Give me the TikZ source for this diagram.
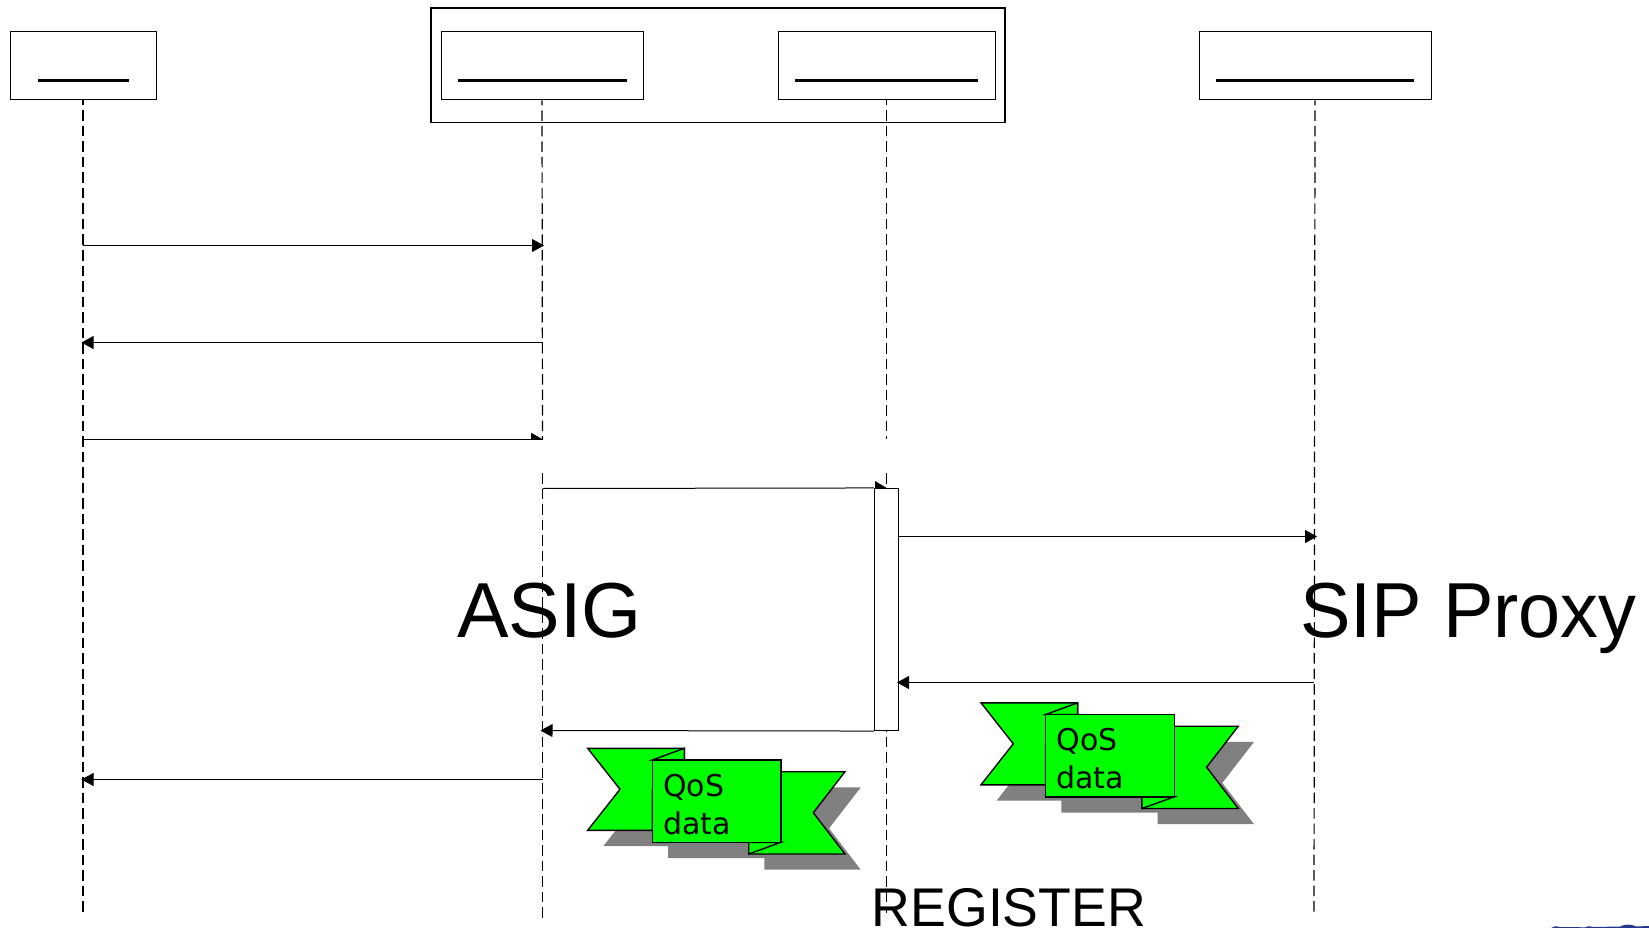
\documentclass[tikz,border=0pt]{standalone}
\usepackage{fontspec}
\setmainfont{Liberation Sans}
\newfontfamily\qosfont{DejaVu Sans}
\newfontfamily\asigfont[FakeStretch=0.99]{Liberation Sans}
\newfontfamily\sipfont[FakeStretch=0.97]{Liberation Sans}
\newfontfamily\regfont[FakeStretch=0.985]{Liberation Sans}
\usetikzlibrary{arrows.meta}
\definecolor{ribgreen}{RGB}{0,255,0}
\definecolor{ribshadow}{RGB}{128,128,128}
\definecolor{cornerblue}{RGB}{35,55,140}
\tikzset{
  x=1pt,y=-1pt,
  headbox/.style={draw=black,line width=1pt,fill=white,inner sep=0pt,minimum height=68.5pt},
  groupbox/.style={draw=black,line width=1.8pt,inner sep=0pt},
  headbar/.style={line width=3pt,black},
  lifeline/.style={draw=black,line width=1.2pt,dash pattern=on 10.5pt off 5pt},
  lifetop/.style={lifeline,dash phase=5.5pt},
  msg/.style={draw=black,line width=1pt,-{Triangle[length=12pt,width=13pt]}},
  msgplain/.style={draw=black,line width=1pt},
  halfhead/.style={fill=black},
  actbox/.style={draw=black,line width=1.1pt,fill=white,inner sep=0pt},
  bigtext/.style={inner sep=0pt,anchor=base west},
  ribline/.style={draw=black,line width=1.4pt,line join=miter,fill=ribgreen},
  qostext/.style={inner sep=0pt,anchor=base west,font=\fontsize{30}{30}\qosfont\selectfont},
}
\newcommand{\ribbon}[3]{%
  \begin{scope}[shift={(#1,#2)}]
    \fill[ribshadow] (603.4,764) -- (700,764) -- (700,775.7) -- (796.7,775.7) -- (796.7,787.4) -- (860.7,787.4)
      -- (829,828.4) -- (860.7,869.7) -- (764.4,869.7) -- (764.4,858) -- (668,858) -- (668,846) -- (603.4,846) -- (635.7,805) -- cycle;
    \path[ribline] (587.7,748.3) -- (684.3,748.3) -- (684.3,790) -- (652.3,790) -- (652.3,830.3) -- (587.7,830.3) -- (620,789.3) -- cycle;
    \path[ribline] (770,771.7) -- (845,771.7) -- (813.3,812.7) -- (845,854) -- (748.7,854) -- (748.7,830) -- (770,830) -- cycle;
    \path[ribline] (652.3,760) -- (684.3,748.3) -- (684.3,760) -- cycle;
    \path[ribline] (748.7,854) -- (781,842.3) -- (748.7,842.3) -- cycle;
    \path[ribline] (652.3,760) rectangle (781,842.3);
    \node[qostext] (#3a) at (663,796) {QoS};
    \node[qostext] (#3b) at (663,834) {data};
  \end{scope}}
\begin{document}
\begin{tikzpicture}
\path[use as bounding box] (0,0) rectangle (1649,928);

% group frame and head boxes
\node[groupbox,minimum width=574pt,minimum height=114.5pt] (group) at (718,65.25) {};
\node[headbox,minimum width=146pt] (h1) at (83,65.75) {};
\node[headbox,minimum width=202pt] (h2) at (542,65.75) {};
\node[headbox,minimum width=217pt] (h3) at (886.5,65.75) {};
\node[headbox,minimum width=232pt] (h4) at (1315,65.75) {};

% head underlines
\draw[headbar] (38,80.5) -- (128.5,80.5);
\draw[headbar] (458,80.5) -- (627,80.5);
\draw[headbar] (795,80.5) -- (978,80.5);
\draw[headbar] (1216,80.5) -- (1414,80.5);

% lifeline points
\coordinate (l1end) at (83,913.6);
\coordinate (l2a) at (542.5,439);
\coordinate (l2b) at (542.5,473);
\coordinate (l2end) at (542.5,918);
\coordinate (l3a) at (886.5,439);
\coordinate (l3b) at (886.5,473);
\coordinate (l3end) at (886.5,913);
\coordinate (l4end) at (1314,913.6);

\draw[lifetop] (h1.south) -- (l1end);
\draw[lifetop] (h2.south) -- (l2a);
\draw[lifeline] (l2b) -- (l2end);
\draw[lifetop] (h3.south) -- (l3a);
\draw[lifeline] (l3b) -- (l3end);
\draw[lifetop] (h4.south) -- (l4end);

% activation bar
\node[actbox,minimum width=24pt,minimum height=242pt] (act) at (886.5,609.5) {};

% message end points
\coordinate (m1a) at (83,245.5);   \coordinate (m1b) at (544,245.5);
\coordinate (m2a) at (542.5,342.5);\coordinate (m2b) at (81.5,342.5);
\coordinate (m3a) at (83,439.5);   \coordinate (m3b) at (543,439.5);
\coordinate (m4a) at (542.5,488.5);\coordinate (m4b) at (act.north west);
\coordinate (m5b) at (1317,536.5);
\coordinate (m6a) at (1314,682.5);
\coordinate (m6b) at (897,682.5);
\coordinate (m8a) at (542.5,779.5); \coordinate (m8b) at (81.5,779.5);
\coordinate (m7b) at (540.5,730.5);

\draw[msg] (m1a) -- (m1b);
\draw[msg] (m2a) -- (m2b);
\draw[msgplain] (m3a) -- (m3b);
\fill[halfhead] (531,432.7) -- (m3b) -- (531,439.5) -- cycle;
\draw[msgplain] (m4a) -- (m4b);
\fill[halfhead] (875,481) -- (886.7,488) -- (875,488) -- cycle;
\draw[msg] (act.north east |- m5b) -- (m5b);
\draw[msg] (m6a) -- (m6b);
\draw[msg] (act.south west) -- (m7b);
\draw[msg] (m8a) -- (m8b);

% ribbons
\ribbon{0}{0}{qa}
\ribbon{393.3}{-45.5}{qb}

% large labels
\node[bigtext,font=\fontsize{78}{78}\asigfont\selectfont] (asig) at (457,637) {ASIG};
\node[bigtext,font=\fontsize{78}{78}\sipfont\selectfont] (sip) at (1300,637) {SIP Proxy};
\node[bigtext,font=\fontsize{54.5}{54.5}\regfont\selectfont] (reg) at (871.5,926) {REGISTER};

% corner fragment
\fill[cornerblue] (1551,928) .. controls (1553,926) and (1556,926) .. (1560,927) -- (1585,927.3) .. controls (1588,925.8) and (1590,926) .. (1593,927) -- (1620,926.5) .. controls (1626,923.5) and (1632,924.5) .. (1636,926.5) -- (1649,926) -- (1649,928) -- cycle;
\end{tikzpicture}
\end{document}
